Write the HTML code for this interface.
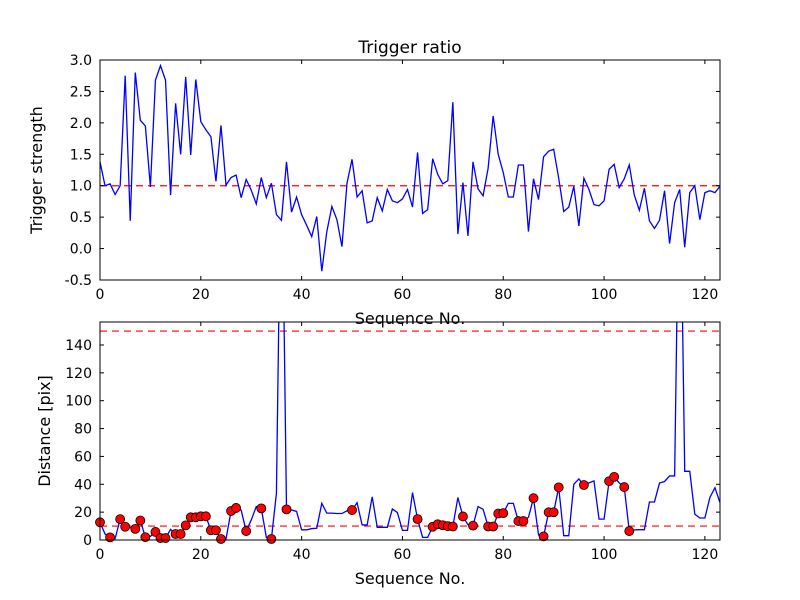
<!DOCTYPE html>
<html><head><meta charset="utf-8"><style>
body{margin:0;background:#fff;}
svg{display:block;font-family:"DejaVu Sans","Liberation Sans",sans-serif;}
</style></head><body>
<svg id="chart" width="800" height="600" viewBox="0 0 800 600"></svg>
<script>
const topValues=[1.38,1.0,1.03,0.86,1.0,2.75,0.44,2.8,2.04,1.95,0.98,2.68,2.91,2.68,0.85,2.31,1.5,2.73,1.49,2.69,2.02,1.89,1.78,1.07,1.96,1.01,1.13,1.17,0.81,1.1,0.93,0.71,1.13,0.81,1.04,0.54,0.45,1.38,0.58,0.82,0.54,0.37,0.19,0.51,-0.36,0.27,0.67,0.46,0.03,1.04,1.42,0.82,0.92,0.41,0.44,0.81,0.6,0.94,0.76,0.73,0.79,0.94,0.66,1.53,0.56,0.62,1.43,1.18,1.03,1.08,2.33,0.23,1.05,0.2,1.38,0.95,0.84,1.28,2.11,1.5,1.21,0.82,0.82,1.33,1.33,0.27,1.11,0.78,1.46,1.55,1.58,1.12,0.59,0.66,0.99,0.36,1.12,0.94,0.7,0.68,0.76,1.26,1.34,0.97,1.11,1.33,0.85,0.61,0.96,0.44,0.32,0.45,0.92,0.08,0.73,0.94,0.02,0.89,1.0,0.46,0.89,0.92,0.89,0.99];
const distValues=[12.7,4.3,1.9,1,15,9.5,9,8,14,2,2.6,5.8,1.4,1.4,7.6,4.3,4.3,10.5,16.3,16.3,17,17,7,7,0.7,0.7,20.8,23,21.5,6.4,14.3,24,22.7,1.9,0.7,33.5,300,22,21.5,20.5,7.3,7.3,8.2,8.4,26.3,19.3,19.3,19,19,21,21.5,26.8,10.8,10.8,31,9.1,9.1,9.1,22.3,19.7,6.9,6.9,34,15,1.9,1.9,9.5,11.3,10.6,9.9,9.7,30.5,16.9,11,10.3,24,22,9.7,9.7,19,19.3,26.3,26.3,13.6,13.6,16.3,30,3.6,2.6,19.9,19.9,37.8,3.1,3.1,40,43.8,39.5,41,42.4,15,15,42.2,45.3,41,38,6.4,7.2,7.4,7.4,27.3,27.3,40.9,42,46,46,300,49.3,49.3,18.6,15.8,15.8,30.6,37.5,26.8];
const markerIdx=[0,2,4,5,7,8,9,11,12,13,15,16,17,18,19,20,21,22,23,24,26,27,29,32,34,37,50,63,66,67,68,69,70,72,74,77,78,79,80,83,84,86,88,89,90,91,96,101,102,104,105];
const xTicks=[0,20,40,60,80,100,120];
const topYTicks=[-0.5,0.0,0.5,1.0,1.5,2.0,2.5,3.0];
const botYTicks=[0,20,40,60,80,100,120,140];
const topThreshold=[1.0];
const botThresholds=[10,150];

const NS='http://www.w3.org/2000/svg';
const svg=document.getElementById('chart');
function mk(tag,attrs,parent){const e=document.createElementNS(NS,tag);for(const k in attrs)e.setAttribute(k,attrs[k]);(parent||svg).appendChild(e);return e;}
const L=100,R=720,XMAX=123;
const xs=v=>L+(v/XMAX)*(R-L);
const T={top:60,bot:280,min:-0.5,max:3.0};
const B={top:322,bot:540,min:0,max:156.5};
const ys=(ax,v)=>ax.bot-(v-ax.min)/(ax.max-ax.min)*(ax.bot-ax.top);

const defs=mk('defs',{});
const cp=mk('clipPath',{id:'clipTop'},defs);mk('rect',{x:L,y:T.top,width:R-L,height:T.bot-T.top},cp);
const cp2=mk('clipPath',{id:'clipBot'},defs);mk('rect',{x:L,y:B.top,width:R-L,height:B.bot-B.top},cp2);

function axes(ax,ticks,fmt,name,ylabel,ylx){
  const g=mk('g',{});
  
  
  xTicks.forEach(t=>{const x=xs(t);
    mk('line',{x1:x,x2:x,y1:ax.bot,y2:ax.bot-4,stroke:'#000'},g);
    mk('line',{x1:x,x2:x,y1:ax.top,y2:ax.top+4,stroke:'#000'},g);
    const tx=mk('text',{x:x,y:ax.bot+19,'text-anchor':'middle','font-size':14},g);tx.textContent=t;
    
    
  });
  ticks.forEach(t=>{const y=ys(ax,t);
    mk('line',{x1:L,x2:L+4,y1:y,y2:y,stroke:'#000'},g);
    mk('line',{x1:R,x2:R-4,y1:y,y2:y,stroke:'#000'},g);
    const tx=mk('text',{x:L-8,y:y+5,'text-anchor':'end','font-size':14},g);tx.textContent=fmt(t);
    
    
  });
  const xl=mk('text',{x:410,y:ax.bot+44,'text-anchor':'middle','font-size':16},g);xl.textContent='Sequence No.';
  
  
  const cy=(ax.top+ax.bot)/2;
  const yl=mk('text',{x:ylx,y:cy,'text-anchor':'middle','font-size':16,transform:`rotate(-90 ${ylx} ${cy})`},g);yl.textContent=ylabel;
  
  
}

// top plot
const gt=mk('g',{'clip-path':'url(#clipTop)'});


topThreshold.forEach(v=>{const l=mk('line',{x1:L,x2:R,y1:ys(T,v),y2:ys(T,v),stroke:'#f00','stroke-width':1.2,'stroke-dasharray':'7,5'},gt);
  
  });
const p1=mk('polyline',{points:topValues.map((v,i)=>xs(i)+','+ys(T,v)).join(' '),fill:'none',stroke:'#00f','stroke-width':1.3},gt);


mk('rect',{x:L,y:T.top,width:R-L,height:T.bot-T.top,fill:'none',stroke:'#000'});
axes(T,topYTicks,t=>t.toFixed(1),'top-axes','Trigger strength',42);
const title=mk('text',{x:410,y:53,'text-anchor':'middle','font-size':17});title.textContent='Trigger ratio';



// bottom plot
const gb=mk('g',{'clip-path':'url(#clipBot)'});


botThresholds.forEach(v=>{const l=mk('line',{x1:L,x2:R,y1:ys(B,v),y2:ys(B,v),stroke:'#f00','stroke-width':1.2,'stroke-dasharray':'7,5'},gb);
  
  });
const p2=mk('polyline',{points:distValues.map((v,i)=>xs(i)+','+ys(B,v)).join(' '),fill:'none',stroke:'#00f','stroke-width':1.3},gb);


const gm=mk('g',{});
markerIdx.forEach(i=>{const c=mk('circle',{cx:xs(i),cy:ys(B,distValues[i]),r:4.5,fill:'#f00',stroke:'#000','stroke-width':0.8},gm);
  
  });
mk('rect',{x:L,y:B.top,width:R-L,height:B.bot-B.top,fill:'none',stroke:'#000'});
axes(B,botYTicks,t=>String(t),'bottom-axes','Distance [pix]',50);
</script>
</body></html>
